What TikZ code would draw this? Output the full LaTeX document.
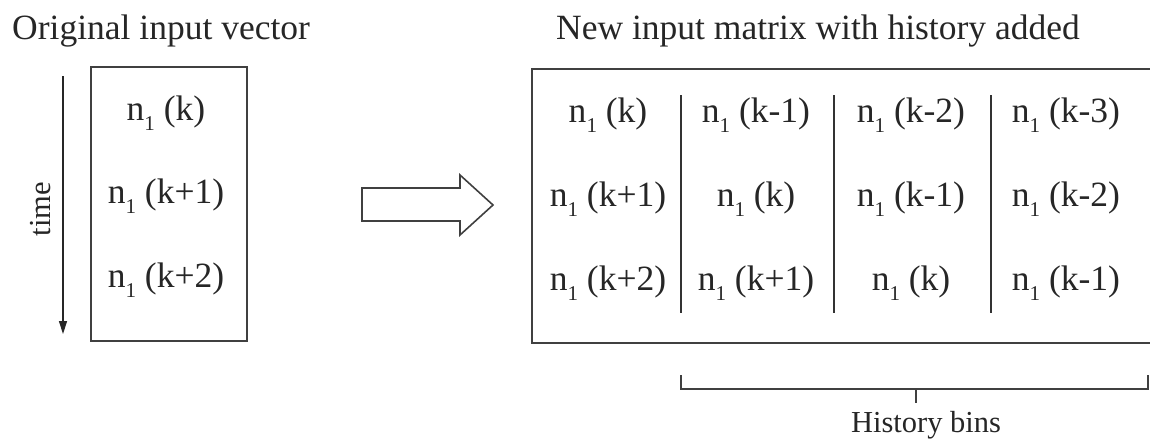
\documentclass[tikz,border=0pt]{standalone}
\usepackage{fontspec}
\setmainfont{Liberation Serif}
\usetikzlibrary{arrows.meta}
\newcommand{\nsub}[1]{n\raisebox{-10pt}{\fontsize{21}{21}\selectfont 1} (#1)}
\tikzset{
  every picture/.style={x=1pt,y=-1pt},
  txt/.style={inner sep=0pt, anchor=base, text=black!85, font=\fontsize{35.5}{36}\selectfont},
  small/.style={inner sep=0pt, text=black!85, font=\fontsize{30.5}{31}\selectfont},
  frame/.style={draw=black!75, line width=1.6pt, inner sep=0pt},
  sep/.style={draw=black!80, line width=1.4pt},
}
\begin{document}
\begin{tikzpicture}
\clip (0,0) rectangle (1150,444);
\fill[white] (0,0) rectangle (1150,444);
% titles
\node[txt, anchor=base west] (t1) at (12,40) {Original input vector};
\node[txt, anchor=base west] (t2) at (556,40) {New input matrix with history added};
% left vector box
\node[frame, minimum width=156pt, minimum height=274pt] (vec) at (169,204) {};
\node[txt] (v1) at (166,120) {\nsub{k}};
\node[txt] (v2) at (166,203) {\nsub{k+1}};
\node[txt] (v3) at (166,287) {\nsub{k+2}};
% time arrow
\coordinate (ts) at (63,76);
\coordinate (te) at (63,334);
\draw[line width=1.4pt, draw=black!85, -{Triangle[length=13pt,width=8pt]}] (ts) -- (te);
\node[small, rotate=90] (time) at (41,209) {time};
% big hollow arrow
\draw[draw=black!75, line width=1.6pt, line join=miter, fill=white]
  (362,188) -- (460,188) -- (460,175) -- (493,205) -- (460,235) -- (460,221) -- (362,221) -- cycle;
% matrix box
\node[frame, minimum width=640pt, minimum height=274pt] (mat) at (852,206) {};
% separators
\coordinate (s1t) at (681,95); \coordinate (s1b) at (681,313);
\coordinate (s2t) at (834,95); \coordinate (s2b) at (834,313);
\coordinate (s3t) at (991,95); \coordinate (s3b) at (991,313);
\draw[sep] (s1t) -- (s1b);
\draw[sep] (s2t) -- (s2b);
\draw[sep] (s3t) -- (s3b);
% cells
\node[txt] (a11) at (608,122) {\nsub{k}};
\node[txt] (a12) at (756,122) {\nsub{k-1}};
\node[txt] (a13) at (911,122) {\nsub{k-2}};
\node[txt] (a14) at (1066,122) {\nsub{k-3}};
\node[txt] (a21) at (608,206) {\nsub{k+1}};
\node[txt] (a22) at (756,206) {\nsub{k}};
\node[txt] (a23) at (911,206) {\nsub{k-1}};
\node[txt] (a24) at (1066,206) {\nsub{k-2}};
\node[txt] (a31) at (608,290) {\nsub{k+2}};
\node[txt] (a32) at (756,290) {\nsub{k+1}};
\node[txt] (a33) at (911,290) {\nsub{k}};
\node[txt] (a34) at (1066,290) {\nsub{k-1}};
% bracket
\coordinate (bl) at (681,375);
\coordinate (br) at (1148,375);
\coordinate (bm) at (916,389);
\coordinate (bt) at (916,403);
\draw[sep, line width=1.6pt, draw=black!75] (bl) |- (br |- bm) -- (br);
\draw[sep, line width=1.6pt, draw=black!75] (bm) -- (bt);
\node[small, anchor=base] (hb) at (926,432) {History bins};
\end{tikzpicture}
\end{document}
